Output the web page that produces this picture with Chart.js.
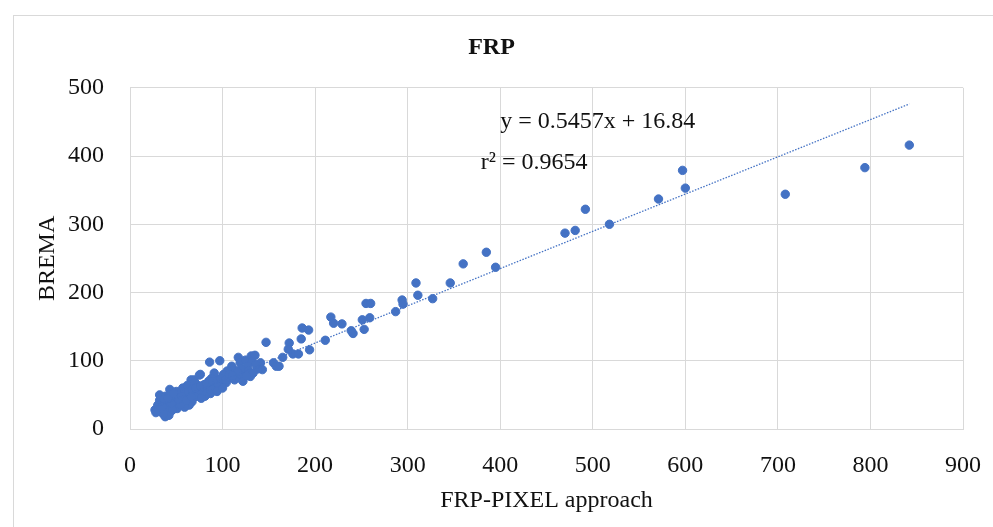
<!DOCTYPE html>
<html>
<head>
<meta charset="utf-8">
<script src="https://cdn.jsdelivr.net/npm/chart.js@4/dist/chart.umd.min.js"></script>
<style>
  html, body { margin: 0; padding: 0; background: #fff; overflow: hidden; }
  #wrap { position: relative; width: 993px; height: 527px; }
</style>
</head>
<body>
<div id="wrap"><canvas id="frpChart" width="993" height="527"></canvas></div>
<script>
// FRP-PIXEL approach (x) vs BREMA (y)
const frpPixel = [
  842, 794, 708, 597, 600, 571, 518, 492, 481, 470,
  395, 385, 360, 346, 309, 311, 327, 294, 295, 287,
  255, 260, 259, 251, 253, 241, 239, 229, 220, 217,
  211, 193, 186, 185, 194, 172, 147, 171, 176, 182,
  165, 155, 158, 161,
  117, 119, 125, 131, 135, 132, 141, 127, 143, 112,
  123, 130, 138, 110, 105, 115, 120, 128, 136, 102,
  108, 118, 113, 122, 104, 133, 126, 116,
  86, 97, 91, 101, 76, 69, 80, 91, 95, 88,
  84, 93, 99, 85, 82, 90, 78, 96, 87, 94, 81, 100,
  57, 66, 75, 72, 62, 60, 65, 70, 74, 68,
  63, 58, 78, 72, 55, 60, 67, 75, 62, 56, 73, 70, 77, 64, 59,
  27, 29, 32, 32, 35, 38, 40, 36, 42, 44,
  46, 40, 43, 38, 48, 50, 52, 45, 48, 34,
  30, 41, 47, 53, 50, 37, 31, 39, 44, 54,
  51, 42, 36, 33, 28, 46, 49, 55,
  45, 52, 58, 63, 67, 71, 76, 83, 89, 94,
  98, 103, 107, 111, 35, 41, 47, 56, 61, 66
];
const brema = [
  416, 383, 344, 379, 353, 337, 300, 322, 291, 287,
  237, 259, 242, 214, 214, 196, 191, 189, 183, 172,
  184, 184, 163, 160, 146, 140, 144, 154, 155, 164,
  130, 145, 148, 132, 116, 126, 127, 117, 110, 110,
  105, 97, 92, 92,
  105, 97, 101, 107, 108, 99, 97, 92, 87, 87,
  82, 77, 88, 92, 85, 80, 88, 85, 94, 79,
  75, 75, 72, 70, 68, 82, 78, 84,
  98, 100, 82, 80, 80, 72, 65, 67, 72, 74,
  62, 60, 66, 70, 56, 58, 60, 62, 52, 55, 48, 60,
  60, 72, 79, 65, 58, 50, 52, 55, 50, 45,
  45, 42, 53, 48, 45, 38, 40, 58, 64, 55, 62, 68, 45, 35, 32,
  28, 28, 42, 50, 38, 18, 22, 30, 30, 26,
  35, 40, 58, 48, 50, 42, 36, 45, 30, 25,
  35, 34, 40, 48, 55, 44, 32, 28, 52, 40,
  30, 20, 22, 30, 24, 28, 47, 36,
  38, 44, 50, 55, 58, 60, 63, 66, 70, 68,
  74, 72, 80, 78, 33, 45, 52, 48, 42, 48
];

// linear fit shown on the figure
const trendSlope = 0.5457;
const trendIntercept = 16.84;
const rSquared = 0.9654;

const xTicks = [0, 100, 200, 300, 400, 500, 600, 700, 800, 900];
const yTicks = [0, 100, 200, 300, 400, 500];

const points = frpPixel.map((x, i) => ({ x: x, y: brema[i] }));
const xMinData = Math.min(...frpPixel);
const xMaxData = Math.max(...frpPixel);
const trendPoints = [
  { x: xMinData, y: trendSlope * xMinData + trendIntercept },
  { x: xMaxData, y: trendSlope * xMaxData + trendIntercept }
];

const BLUE = '#4472C4';
const GRID = '#d9d9d9';
const SERIF = '"Liberation Serif", "Times New Roman", serif';

// outer frame + regression text
const decorations = {
  id: 'decorations',
  beforeDraw(chart) {
    const c = chart.ctx;
    c.save();
    c.fillStyle = '#fff';
    c.fillRect(0, 0, chart.width, chart.height);
    c.strokeStyle = GRID;
    c.lineWidth = 1;
    c.strokeRect(13.5, 15.5, 1100, 700);
    c.restore();
  },
  afterDatasetsDraw(chart) {
    const c = chart.ctx;
    const xs = chart.scales.x, ys = chart.scales.y;
    c.save();
    c.fillStyle = '#111';
    c.font = '24px ' + SERIF;
    c.textBaseline = 'middle';
    c.textAlign = 'left';
    c.fillText('y = ' + trendSlope + 'x + ' + trendIntercept, xs.getPixelForValue(400), ys.getPixelForValue(450));
    c.fillText('r\u00b2 = ' + rSquared, xs.getPixelForValue(379), ys.getPixelForValue(390));
    c.restore();
  }
};

const ctx = document.getElementById('frpChart').getContext('2d');
const frpChart = new Chart(ctx, {
  type: 'scatter',
  data: {
    datasets: [
      {
        type: 'line',
        label: 'Linear (FRP)',
        data: trendPoints,
        borderColor: BLUE,
        borderWidth: 1.3,
        borderDash: [1.5, 1.5],
        pointRadius: 0,
        fill: false
      },
      {
        label: 'FRP',
        data: points,
        backgroundColor: BLUE,
        borderColor: BLUE,
        pointRadius: 4.2,
        pointHoverRadius: 4.2
      }
    ]
  },
  options: {
    responsive: false,
    animation: false,
    layout: {
      padding: { left: 20, right: 30, top: 0, bottom: 0 }
    },
    plugins: {
      legend: { display: false },
      tooltip: { enabled: false },
      title: {
        display: true,
        text: 'FRP',
        color: '#111',
        font: { family: SERIF, size: 24, weight: 'bold' },
        padding: { top: 33, bottom: 26 }
      }
    },
    scales: {
      x: {
        type: 'linear',
        min: 0,
        max: 900,
        afterBuildTicks: (scale) => { scale.ticks = xTicks.map(v => ({ value: v })); },
        afterFit: (scale) => {
          scale.height = 98;
          scale.paddingLeft = 0;
          scale.paddingRight = 0;
        },
        grid: { color: GRID, drawTicks: false },
        border: { color: GRID },
        ticks: {
          color: '#111',
          padding: 22,
          font: { family: SERIF, size: 24 }
        },
        title: {
          display: true,
          text: 'FRP-PIXEL approach',
          color: '#111',
          font: { family: SERIF, size: 24 },
          padding: { top: 0, bottom: 12 }
        }
      },
      y: {
        type: 'linear',
        min: 0,
        max: 500,
        afterBuildTicks: (scale) => { scale.ticks = yTicks.map(v => ({ value: v })); },
        afterFit: (scale) => { scale.width = 110; },
        grid: { color: GRID, drawTicks: false },
        border: { color: GRID },
        ticks: {
          color: '#111',
          padding: 26,
          font: { family: SERIF, size: 24 }
        },
        title: {
          display: true,
          text: 'BREMA',
          color: '#111',
          font: { family: SERIF, size: 24 },
          padding: { top: 13, bottom: 0 }
        }
      }
    }
  },
  plugins: [decorations]
});
</script>
</body>
</html>
